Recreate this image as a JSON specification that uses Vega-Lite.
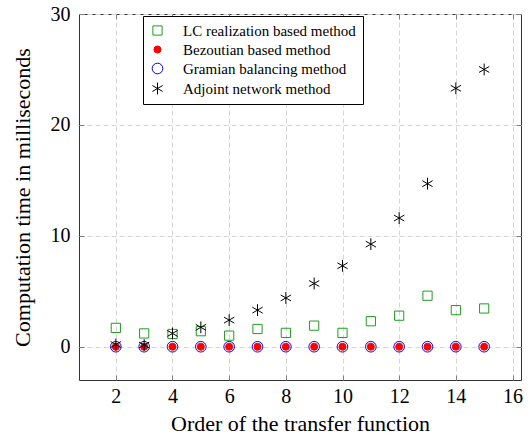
{
  "$schema": "https://vega.github.io/schema/vega-lite/v6.json",
  "width": 442,
  "height": 366,
  "autosize": "none",
  "padding": {"left": 79, "top": 14, "right": 9, "bottom": 56},
  "config": {
    "font": "Liberation Serif",
    "view": {"stroke": "#333333", "strokeWidth": 1},
    "axis": {
      "domain": false,
      "grid": true,
      "gridColor": "#d6d6d6",
      "gridDash": [5, 3],
      "gridWidth": 1,
      "tickColor": "#808080",
      "tickSize": -5,
      "labelFont": "Liberation Serif",
      "labelFontSize": 20,
      "labelColor": "#000000",
      "titleFont": "Liberation Serif",
      "titleFontSize": 22,
      "titleFontWeight": "normal",
      "titleColor": "#000000"
    },
    "legend": {
      "orient": "none",
      "legendX": 64,
      "legendY": 2,
      "strokeColor": "#000000",
      "fillColor": "#ffffff",
      "padding": 7,
      "rowPadding": 3,
      "labelFont": "Liberation Serif",
      "labelFontSize": 15,
      "labelColor": "#000000",
      "labelOffset": 18,
      "labelLimit": 0,
      "symbolStrokeWidth": 1
    }
  },
  "data": {
    "values": [
      {"method": "Gramian balancing method", "order": 2, "time": 0},
      {"method": "Gramian balancing method", "order": 3, "time": 0},
      {"method": "Gramian balancing method", "order": 4, "time": 0},
      {"method": "Gramian balancing method", "order": 5, "time": 0},
      {"method": "Gramian balancing method", "order": 6, "time": 0},
      {"method": "Gramian balancing method", "order": 7, "time": 0},
      {"method": "Gramian balancing method", "order": 8, "time": 0},
      {"method": "Gramian balancing method", "order": 9, "time": 0},
      {"method": "Gramian balancing method", "order": 10, "time": 0},
      {"method": "Gramian balancing method", "order": 11, "time": 0},
      {"method": "Gramian balancing method", "order": 12, "time": 0},
      {"method": "Gramian balancing method", "order": 13, "time": 0},
      {"method": "Gramian balancing method", "order": 14, "time": 0},
      {"method": "Gramian balancing method", "order": 15, "time": 0},
      {"method": "Bezoutian based method", "order": 2, "time": 0},
      {"method": "Bezoutian based method", "order": 3, "time": 0},
      {"method": "Bezoutian based method", "order": 4, "time": 0},
      {"method": "Bezoutian based method", "order": 5, "time": 0},
      {"method": "Bezoutian based method", "order": 6, "time": 0},
      {"method": "Bezoutian based method", "order": 7, "time": 0},
      {"method": "Bezoutian based method", "order": 8, "time": 0},
      {"method": "Bezoutian based method", "order": 9, "time": 0},
      {"method": "Bezoutian based method", "order": 10, "time": 0},
      {"method": "Bezoutian based method", "order": 11, "time": 0},
      {"method": "Bezoutian based method", "order": 12, "time": 0},
      {"method": "Bezoutian based method", "order": 13, "time": 0},
      {"method": "Bezoutian based method", "order": 14, "time": 0},
      {"method": "Bezoutian based method", "order": 15, "time": 0},
      {"method": "LC realization based method", "order": 2, "time": 1.7},
      {"method": "LC realization based method", "order": 3, "time": 1.2},
      {"method": "LC realization based method", "order": 4, "time": 1.15},
      {"method": "LC realization based method", "order": 5, "time": 1.4},
      {"method": "LC realization based method", "order": 6, "time": 1.0},
      {"method": "LC realization based method", "order": 7, "time": 1.6},
      {"method": "LC realization based method", "order": 8, "time": 1.25},
      {"method": "LC realization based method", "order": 9, "time": 1.9},
      {"method": "LC realization based method", "order": 10, "time": 1.25},
      {"method": "LC realization based method", "order": 11, "time": 2.3},
      {"method": "LC realization based method", "order": 12, "time": 2.8},
      {"method": "LC realization based method", "order": 13, "time": 4.6},
      {"method": "LC realization based method", "order": 14, "time": 3.3},
      {"method": "LC realization based method", "order": 15, "time": 3.45},
      {"method": "Adjoint network method", "order": 2, "time": 0.2},
      {"method": "Adjoint network method", "order": 3, "time": 0.15},
      {"method": "Adjoint network method", "order": 4, "time": 1.2},
      {"method": "Adjoint network method", "order": 5, "time": 1.75},
      {"method": "Adjoint network method", "order": 6, "time": 2.4},
      {"method": "Adjoint network method", "order": 7, "time": 3.3},
      {"method": "Adjoint network method", "order": 8, "time": 4.4},
      {"method": "Adjoint network method", "order": 9, "time": 5.7},
      {"method": "Adjoint network method", "order": 10, "time": 7.3},
      {"method": "Adjoint network method", "order": 11, "time": 9.25},
      {"method": "Adjoint network method", "order": 12, "time": 11.6},
      {"method": "Adjoint network method", "order": 13, "time": 14.7},
      {"method": "Adjoint network method", "order": 14, "time": 23.3},
      {"method": "Adjoint network method", "order": 15, "time": 25.0}
    ]
  },
  "layer": [
    {
      "mark": {"type": "point", "strokeWidth": 1, "opacity": 1},
      "encoding": {
        "x": {
          "field": "order",
          "type": "quantitative",
          "scale": {"domain": [0.7, 16.3], "nice": false, "zero": false},
          "axis": {
            "values": [2, 4, 6, 8, 10, 12, 14, 16],
            "title": "Order of the transfer function",
            "labelPadding": 11,
            "titlePadding": 7
          }
        },
        "y": {
          "field": "time",
          "type": "quantitative",
          "scale": {"domain": [-3, 30], "nice": false, "zero": false},
          "axis": {
            "values": [0, 10, 20, 30],
            "title": "Computation time in milliseconds",
            "labelPadding": 14,
            "titlePadding": 16
          }
        },
        "shape": {
          "field": "method",
          "type": "nominal",
          "scale": {
            "domain": ["LC realization based method", "Bezoutian based method", "Gramian balancing method", "Adjoint network method"],
            "range": ["square", "circle", "circle", "M0,-1L0,1M-0.866,-0.5L0.866,0.5M-0.866,0.5L0.866,-0.5"]
          },
          "legend": {"title": null}
        },
        "stroke": {
          "field": "method",
          "type": "nominal",
          "scale": {
            "domain": ["LC realization based method", "Bezoutian based method", "Gramian balancing method", "Adjoint network method"],
            "range": ["#1f9e1f", "#ff0000", "#0000ff", "#000000"]
          },
          "legend": {"title": null}
        },
        "fill": {
          "field": "method",
          "type": "nominal",
          "scale": {
            "domain": ["LC realization based method", "Bezoutian based method", "Gramian balancing method", "Adjoint network method"],
            "range": ["transparent", "#ff0000", "transparent", "transparent"]
          },
          "legend": {"title": null}
        },
        "size": {
          "field": "method",
          "type": "nominal",
          "scale": {
            "type": "ordinal",
            "domain": ["LC realization based method", "Bezoutian based method", "Gramian balancing method", "Adjoint network method"],
            "range": [85, 50, 113, 140]
          },
          "legend": {"title": null}
        }
      }
    },
    {
      "mark": {"type": "point", "opacity": 0},
      "encoding": {
        "x": {
          "field": "order",
          "type": "quantitative",
          "axis": {"orient": "top", "values": [2, 4, 6, 8, 10, 12, 14, 16], "labels": false, "grid": false, "title": null}
        },
        "y": {
          "field": "time",
          "type": "quantitative",
          "axis": {"orient": "right", "values": [0, 10, 20, 30], "labels": false, "grid": false, "title": null}
        }
      }
    }
  ],
  "resolve": {"axis": {"x": "independent", "y": "independent"}}
}
